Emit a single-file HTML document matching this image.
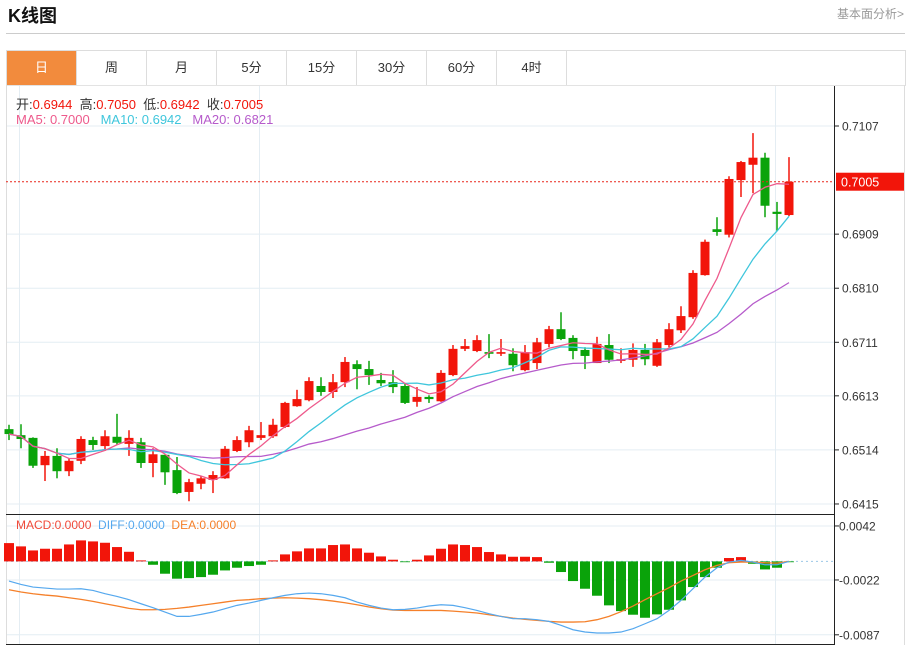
<!DOCTYPE html>
<html><head><meta charset="utf-8">
<style>
body{margin:0;width:908px;height:645px;overflow:hidden;background:#fff;font-family:"Liberation Sans","Noto Sans CJK SC",sans-serif;position:relative}
.t{position:absolute;white-space:nowrap}
#tabs{position:absolute;left:6px;top:50px;width:898px;height:34px;border:1px solid #ddd;border-bottom:1px solid #e3e3e3;display:flex}
.tab{width:69px;height:34px;border-right:1px solid #ddd;text-align:center;line-height:34px;font-size:13px;color:#333}
.tab.on{background:#f28b3d;color:#fff}
svg{position:absolute;left:0;top:0}
</style></head><body>
<div class="t" style="left:8px;top:2px;font-size:18px;font-weight:bold;color:#111">K线图</div>
<div class="t" style="right:4px;top:5px;font-size:12px;color:#999">基本面分析&gt;</div>
<div style="position:absolute;left:6px;top:33px;width:899px;height:1px;background:#ccc"></div>
<div id="tabs">
<div class="tab on">日</div>
<div class="tab">周</div>
<div class="tab">月</div>
<div class="tab">5分</div>
<div class="tab">15分</div>
<div class="tab">30分</div>
<div class="tab">60分</div>
<div class="tab">4时</div>
</div>
<svg id="chart" width="908" height="645"></svg>
<script>
const opens=[.6552,.6541,.6536,.6486,.6503,.6475,.6494,.6532,.6521,.6538,.6525,.6528,.6490,.6505,.6477,.6437,.6452,.6459,.6462,.6512,.6528,.6536,.6539,.6556,.6594,.6605,.6631,.6620,.6638,.6671,.6662,.6642,.6638,.6631,.6602,.6611,.6603,.6651,.6699,.6695,.6693,.6690,.6690,.6660,.6673,.6708,.6735,.6719,.6697,.6673,.6706,.6677,.6679,.6697,.6668,.6706,.6733,.6757,.6834,.6918,.6908,.7008,.7036,.7049,.6950,.6944];
const highs=[.6560,.6561,.6537,.6512,.6517,.6499,.6539,.6538,.6550,.6580,.6550,.6536,.6517,.6505,.6501,.6461,.6466,.6475,.6521,.6539,.6558,.6565,.6571,.6602,.6624,.6647,.6647,.6653,.6684,.6678,.6677,.6655,.6660,.6636,.6629,.6614,.6660,.6706,.6717,.6724,.6726,.6717,.6700,.6706,.6719,.6741,.6766,.6724,.6702,.6721,.6726,.6700,.6709,.6708,.6717,.6746,.6777,.6843,.6899,.6940,.7015,.7043,.7094,.7058,.6968,.7050];
const lows=[.6532,.6517,.6481,.6457,.6462,.6466,.6488,.6514,.6512,.6523,.6503,.6481,.6464,.6450,.6433,.6420,.6442,.6435,.6461,.6510,.6519,.6532,.6536,.6554,.6593,.6603,.6613,.6609,.6629,.6625,.6633,.6631,.6618,.6598,.6593,.6600,.6602,.6649,.6695,.6693,.6682,.6686,.6658,.6658,.6662,.6702,.6715,.6680,.6662,.6673,.6673,.6673,.6666,.6669,.6666,.6702,.6728,.6754,.6833,.6906,.6903,.6977,.6984,.6940,.6915,.6942];
const closes=[.6543,.6534,.6485,.6503,.6475,.6494,.6534,.6523,.6539,.6527,.6536,.6490,.6506,.6473,.6435,.6455,.6462,.6468,.6516,.6532,.6550,.6541,.6560,.6600,.6607,.6640,.6620,.6638,.6675,.6662,.6651,.6636,.6629,.6600,.6611,.6607,.6655,.6699,.6704,.6715,.6690,.6693,.6669,.6693,.6711,.6735,.6717,.6695,.6686,.6708,.6679,.6680,.6697,.6680,.6711,.6735,.6759,.6838,.6895,.6913,.7010,.7041,.7049,.6961,.6946,.7005];
// MACD values in units of 0.0001
const macdHist=[21.7,17.8,13.0,15.0,15.0,20.1,24.9,23.7,22.1,17.0,11.4,1.2,-4.0,-14.6,-20.5,-19.8,-18.6,-15.8,-10.7,-7.5,-5.5,-4.0,1.2,8.3,11.9,15.4,15.4,19.4,20.1,15.4,10.3,5.9,2.0,-0.2,2.0,7.1,15.0,20.1,19.4,17.0,11.1,8.3,5.5,5.5,5.1,-1.6,-12.6,-23.3,-32.4,-40.7,-52.1,-58.9,-63.2,-66.8,-62.8,-57.3,-46.2,-30.4,-18.6,-7.5,4.0,5.1,-2.8,-9.5,-7.5,-0.5];
const diffVals=[-23.3,-27.3,-30.4,-31.6,-32.8,-32.8,-32.4,-34.4,-38.3,-41.5,-45.4,-50.2,-54.9,-60.0,-65.2,-65.2,-62.8,-60.0,-56.1,-52.1,-49.4,-46.2,-43.1,-40.3,-38.3,-37.5,-38.3,-40.3,-43.1,-48.2,-52.1,-55.3,-57.3,-56.9,-55.3,-52.9,-51.4,-52.1,-54.9,-58.1,-62.0,-65.2,-67.9,-67.9,-69.1,-71.1,-75.8,-81.0,-83.7,-84.9,-84.9,-83.7,-79.8,-73.9,-67.9,-58.1,-46.2,-32.4,-18.6,-7.5,-0.8,1.2,-0.8,-4.0,-4.0,0];
const deaVals=[-33.6,-36.3,-38.3,-39.9,-41.1,-43.1,-45.0,-47.4,-50.2,-52.9,-55.7,-57.3,-57.3,-56.9,-55.7,-54.1,-52.1,-50.2,-48.2,-46.2,-45.4,-44.2,-43.5,-43.1,-43.5,-44.2,-45.4,-47.0,-49.0,-51.4,-54.1,-56.1,-57.7,-58.1,-58.1,-58.1,-58.1,-58.9,-60.0,-61.2,-63.2,-65.2,-67.2,-68.7,-69.9,-71.1,-71.9,-71.9,-71.5,-69.1,-65.2,-59.6,-52.9,-45.4,-38.3,-31.2,-23.3,-16.6,-9.9,-4.7,-1.6,-0.8,-0.8,-1.6,-2.0,0];
const priceTicks=[0.7107,0.6909,0.6810,0.6711,0.6613,0.6514,0.6415];
const macdTicks=[0.0042,-0.0022,-0.0087];
const lastPrice=0.7005;
const vGridIdx=[1,21,64];

const svg=document.getElementById('chart');
const NS='http://www.w3.org/2000/svg';
function mk(tag,attrs,parent){const e=document.createElementNS(NS,tag);for(const k in attrs)e.setAttribute(k,attrs[k]);(parent||svg).appendChild(e);return e;}
const X=i=>9+12*i;
const Y=v=>126+(0.7107-v)*5462;
const MY=v=>561.4-v*8437;
const L=6,R=834;
// grid
const grid=mk('g',{});


priceTicks.forEach(v=>mk('line',{x1:L,x2:R,y1:Y(v),y2:Y(v),stroke:'#e4edf3','stroke-width':1},grid));
macdTicks.forEach(v=>mk('line',{x1:L,x2:R,y1:MY(v),y2:MY(v),stroke:'#e4edf3','stroke-width':1},grid));
vGridIdx.forEach(i=>mk('line',{x1:X(i)-1.5,x2:X(i)-1.5,y1:86,y2:645,stroke:'#e4edf3','stroke-width':1},grid));
// frame
mk('line',{x1:L+0.5,x2:L+0.5,y1:85,y2:645,stroke:'#ddd'});
mk('line',{x1:904.5,x2:904.5,y1:85,y2:645,stroke:'#ddd'});
mk('line',{x1:R+0.5,x2:R+0.5,y1:86,y2:645,stroke:'#222'});
mk('line',{x1:L,x2:R,y1:514.5,y2:514.5,stroke:'#222'});
mk('line',{x1:L,x2:R,y1:644.5,y2:644.5,stroke:'#222'});
// axis labels
priceTicks.forEach(v=>{
  mk('line',{x1:R,x2:R+5,y1:Y(v),y2:Y(v),stroke:'#222'});
  const t=mk('text',{x:R+8,y:Y(v)+4.5,'font-size':12,fill:'#333'});t.textContent=v.toFixed(4);
  
  
});
macdTicks.forEach(v=>{
  mk('line',{x1:R,x2:R+5,y1:MY(v),y2:MY(v),stroke:'#222'});
  const t=mk('text',{x:R+5,y:MY(v)+4.5,'font-size':12,fill:'#333'});t.textContent=(v<0?'-':'')+Math.abs(v).toFixed(4).replace(/^0/,v<0?'0':'0');
  if(v<0)t.textContent='-'+Math.abs(v).toFixed(4);
  
  
});
// candles
const cg=mk('g',{});


for(let i=0;i<closes.length;i++){
  const up=closes[i]>=opens[i];const col=up?'#f2150a':'#0aa30a';
  const g=mk('g',{},cg);
  
  
  mk('line',{x1:X(i),x2:X(i),y1:Y(highs[i]),y2:Y(lows[i]),stroke:col,'stroke-width':1.5},g);
  const t=Math.min(Y(opens[i]),Y(closes[i])),b=Math.max(Y(opens[i]),Y(closes[i]));
  mk('rect',{x:X(i)-4.5,y:t,width:9,height:Math.max(1.5,b-t),fill:col},g);
}
function ma(n){return closes.map((c,i)=>{const s=Math.max(0,i-n+1);let a=0;for(let j=s;j<=i;j++)a+=closes[j];return a/(i-s+1);});}
function poly(vals,f,col,name,w){const p=mk('polyline',{points:vals.map((v,i)=>X(i)+','+f(v)).join(' '),fill:'none',stroke:col,'stroke-width':w||1.3});}
poly(ma(20),Y,'#b65bcb','ma20-line');
poly(ma(10),Y,'#3fc6dc','ma10-line');
poly(ma(5),Y,'#ee5a8c','ma5-line');
// last price
mk('line',{x1:L,x2:R,y1:Y(lastPrice),y2:Y(lastPrice),stroke:'#e8261a','stroke-dasharray':'2,2'});
const lb=mk('rect',{x:836,y:Y(lastPrice)-9,width:68,height:18,fill:'#f2150a'});


const lt=mk('text',{x:841,y:Y(lastPrice)+5,'font-size':12.5,fill:'#fff'});lt.textContent=lastPrice.toFixed(4);
// MACD
mk('line',{x1:L,x2:R,y1:MY(0),y2:MY(0),stroke:'#9cc8e6','stroke-dasharray':'2,3'});
const hg=mk('g',{});


macdHist.forEach((h,i)=>{const v=h/10000;const y0=MY(0),y1=MY(v);
  const r=mk('rect',{x:X(i)-5,y:Math.min(y0,y1),width:10,height:Math.max(0.8,Math.abs(y1-y0)),fill:h>=0?'#f2150a':'#0aa30a'},hg);
  
});
poly(deaVals.map(v=>v/10000),MY,'#f5802a','dea-line',1.3);
poly(diffVals.map(v=>v/10000),MY,'#55a8ee','diff-line',1.2);
</script>
<div class="t" style="left:16px;top:94px;font-size:13px;color:#333">开:<span style="color:#f2150a">0.6944</span>&nbsp;&nbsp;高:<span style="color:#f2150a">0.7050</span>&nbsp;&nbsp;低:<span style="color:#f2150a">0.6942</span>&nbsp;&nbsp;收:<span style="color:#f2150a">0.7005</span></div>
<div class="t" style="left:16px;top:112px;font-size:13px"><span style="color:#ee5a8c">MA5: 0.7000</span>&nbsp;&nbsp;&nbsp;<span style="color:#3fc6dc">MA10: 0.6942</span>&nbsp;&nbsp;&nbsp;<span style="color:#b65bcb">MA20: 0.6821</span></div>
<div class="t" style="left:16px;top:518px;font-size:12px"><span style="color:#f04a3a">MACD:0.0000</span>&nbsp;&nbsp;<span style="color:#55a8ee">DIFF:0.0000</span>&nbsp;&nbsp;<span style="color:#f5802a">DEA:0.0000</span></div>
</body></html>
